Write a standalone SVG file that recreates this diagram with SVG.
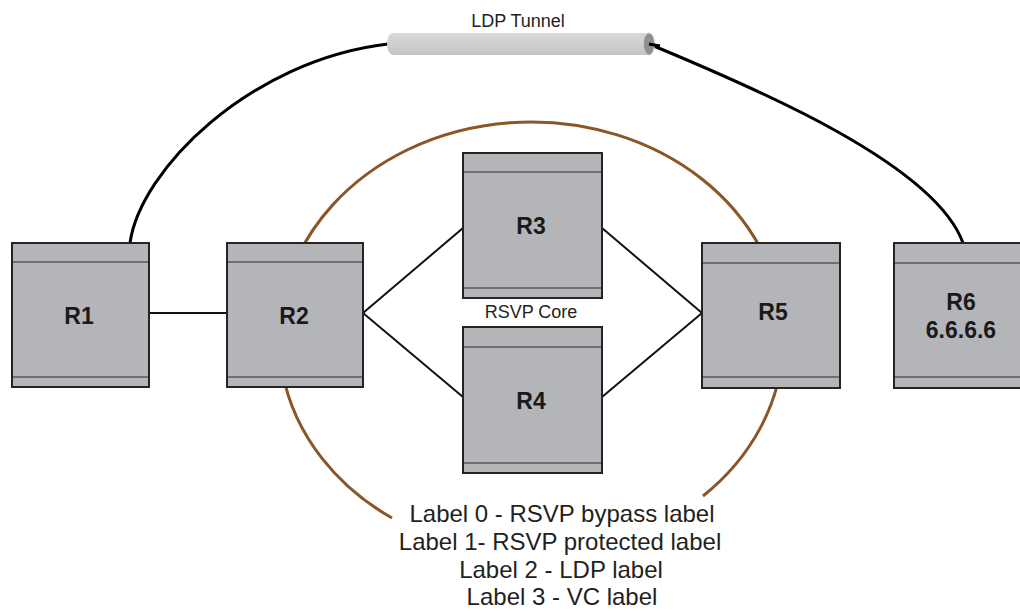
<svg xmlns="http://www.w3.org/2000/svg" width="1020" height="611" viewBox="0 0 1020 611">
<style>
.box{fill:#b4b5b9;stroke:#262324;stroke-width:2}
.band{stroke:#6f7074;stroke-width:2}
.lbl{font-family:"Liberation Sans",Arial,sans-serif;font-weight:bold;font-size:23px;fill:#1a1a1a;text-anchor:middle}
.txt{font-family:"Liberation Sans",Arial,sans-serif;fill:#231f20;text-anchor:middle}
.link{fill:none;stroke:#111;stroke-width:2}
.tun{fill:none;stroke:#000;stroke-width:3}
.bypass{fill:none;stroke:#8a5628;stroke-width:3}
</style>
<defs>
<linearGradient id="tg" x1="0" y1="0" x2="0" y2="1">
<stop offset="0" stop-color="#d8d8da"/>
<stop offset="0.5" stop-color="#cfcfd1"/>
<stop offset="1" stop-color="#c4c4c7"/>
</linearGradient>
</defs>
<rect width="1020" height="611" fill="#ffffff"/>
<g id="connectors">
<path class="tun" d="M130,243 C140,170 250,60 388,44"/>
<path class="tun" d="M649,44 C760,90 935,165 963,243"/>
<path class="bypass" d="M392,518 A252 216 0 1 1 703,496"/>
<line class="link" x1="149" y1="313" x2="227" y2="313"/>
<line class="link" x1="363" y1="313" x2="463" y2="228"/>
<line class="link" x1="363" y1="313" x2="463" y2="397"/>
<line class="link" x1="602" y1="228" x2="702" y2="313"/>
<line class="link" x1="602" y1="397" x2="702" y2="313"/>
</g>
<g id="ldp-tunnel">
<path d="M393,33 L649,33 L649,55 L393,55 A6 11 0 0 1 393,33 Z" fill="url(#tg)"/>
<ellipse cx="649" cy="44" rx="5.5" ry="11" fill="#8f8f93" stroke="#c8c8cb" stroke-width="1"/>
<path d="M649,44 L660,46" stroke="#000" stroke-width="3"/>
<text class="txt" x="518" y="27" font-size="18">LDP Tunnel</text>
</g>
<g id="R1">
<rect class="box" x="12" y="243" width="137" height="144"/>
<line class="band" x1="13" y1="262" x2="148" y2="262"/>
<line class="band" x1="13" y1="377" x2="148" y2="377"/>
<text class="lbl" x="79" y="324">R1</text>
</g>
<g id="R2">
<rect class="box" x="227" y="243" width="136" height="144"/>
<line class="band" x1="228" y1="262" x2="362" y2="262"/>
<line class="band" x1="228" y1="377" x2="362" y2="377"/>
<text class="lbl" x="294" y="324">R2</text>
</g>
<g id="R3">
<rect class="box" x="463" y="153" width="139" height="145"/>
<line class="band" x1="464" y1="172" x2="601" y2="172"/>
<line class="band" x1="464" y1="288" x2="601" y2="288"/>
<text class="lbl" x="531" y="234">R3</text>
</g>
<g id="rsvp-core">
<text class="txt" x="531" y="318" font-size="18">RSVP Core</text>
</g>
<g id="R4">
<rect class="box" x="463" y="327" width="139" height="146"/>
<line class="band" x1="464" y1="347" x2="601" y2="347"/>
<line class="band" x1="464" y1="463" x2="601" y2="463"/>
<text class="lbl" x="531" y="409">R4</text>
</g>
<g id="R5">
<rect class="box" x="702" y="243" width="138" height="145"/>
<line class="band" x1="703" y1="263" x2="839" y2="263"/>
<line class="band" x1="703" y1="377" x2="839" y2="377"/>
<text class="lbl" x="773" y="320">R5</text>
</g>
<g id="R6">
<rect class="box" x="894" y="243" width="140" height="145"/>
<line class="band" x1="895" y1="263" x2="1020" y2="263"/>
<line class="band" x1="895" y1="377" x2="1020" y2="377"/>
<text class="lbl" x="961" y="310">R6</text>
<text class="lbl" x="961" y="338">6.6.6.6</text>
</g>
<g id="legend">
<text class="txt" x="562" y="522" font-size="24">Label 0 - RSVP bypass label</text>
<text class="txt" x="560" y="550" font-size="24">Label 1- RSVP protected label</text>
<text class="txt" x="561" y="578" font-size="24">Label 2 - LDP label</text>
<text class="txt" x="562" y="605" font-size="24">Label 3 - VC label</text>
</g>
</svg>
